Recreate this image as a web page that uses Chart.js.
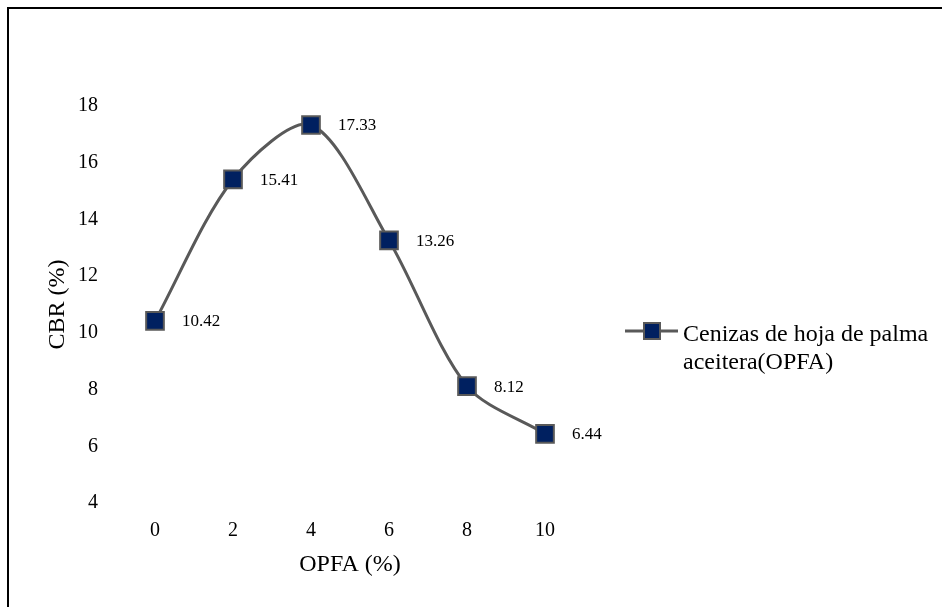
<!DOCTYPE html>
<html>
<head>
<meta charset="utf-8">
<script src="https://cdn.jsdelivr.net/npm/chart.js@4.4.1/dist/chart.umd.min.js"></script>
<style>
  html, body { margin: 0; padding: 0; background: #fff; }
  #wrap { position: relative; width: 942px; height: 607px; }
  #frame {
    position: absolute; left: 7px; top: 7px; right: 0; bottom: 0;
    border-left: 2px solid #000; border-top: 2px solid #000;
    pointer-events: none;
  }
  canvas { position: absolute; left: 0; top: 0; }
</style>
</head>
<body>
<div id="wrap">
  <canvas id="chart" width="942" height="607"></canvas>
  <div id="frame"></div>
</div>
<script>
/* Data */
const categories = ["0", "2", "4", "6", "8", "10"];
const cbrValues = [10.42, 15.41, 17.33, 13.26, 8.12, 6.44];
const seriesName = ["Cenizas de hoja de palma", "aceitera(OPFA)"];
const yMin = 4;
const yMax = 18;
const yStep = 2;

const serif = "'Liberation Serif', 'Times New Roman', serif";
const lineColor = "#595959";
const markerColor = "#002060";

/* Value labels next to each point */
const valueLabels = {
  id: "valueLabels",
  afterDatasetsDraw(chart) {
    const ctx = chart.ctx;
    const meta = chart.getDatasetMeta(0);
    ctx.save();
    ctx.font = "17px " + serif;
    ctx.fillStyle = "#000";
    ctx.textAlign = "left";
    ctx.textBaseline = "middle";
    meta.data.forEach((pt, i) => {
      ctx.fillText(cbrValues[i].toFixed(2), pt.x + 27, pt.y + 1);
    });
    ctx.restore();
  }
};

/* Legend on the right, two lines of text */
const sideLegend = {
  id: "sideLegend",
  afterDraw(chart) {
    const ctx = chart.ctx;
    const x0 = 625, x1 = 678, y = 331;
    ctx.save();
    ctx.strokeStyle = lineColor;
    ctx.lineWidth = 3;
    ctx.beginPath();
    ctx.moveTo(x0, y);
    ctx.lineTo(x1, y);
    ctx.stroke();
    ctx.fillStyle = markerColor;
    ctx.lineWidth = 2;
    ctx.fillRect(644, y - 8, 16, 16);
    ctx.strokeRect(644, y - 8, 16, 16);
    ctx.font = "24px " + serif;
    ctx.fillStyle = "#000";
    ctx.textAlign = "left";
    ctx.textBaseline = "alphabetic";
    ctx.fillText(seriesName[0], 683, 341);
    ctx.fillText(seriesName[1], 683, 369);
    ctx.restore();
  }
};

const chart = new Chart(document.getElementById("chart"), {
  type: "line",
  data: {
    labels: categories,
    datasets: [
      {
        label: seriesName.join(" "),
        data: cbrValues,
        borderColor: lineColor,
        borderWidth: 3,
        tension: 0.3,
        fill: false,
        pointStyle: "rect",
        pointRadius: 12.5,
        pointHoverRadius: 12.5,
        pointBackgroundColor: markerColor,
        pointBorderColor: lineColor,
        pointBorderWidth: 2
      }
    ]
  },
  options: {
    responsive: false,
    animation: false,
    layout: {
      padding: { left: 0, top: 106, right: 358, bottom: 0 }
    },
    plugins: {
      legend: { display: false },
      tooltip: { enabled: false }
    },
    scales: {
      x: {
        offset: true,
        grid: { display: false, drawTicks: false },
        border: { display: false },
        ticks: {
          color: "#000",
          padding: 16,
          font: { family: serif, size: 20 }
        },
        title: {
          display: true,
          text: "OPFA (%)",
          color: "#000",
          font: { family: serif, size: 24, lineHeight: 1.2 },
          padding: { top: 0, bottom: 28 }
        },
        afterFit(scale) {
          scale.height = 104;
        }
      },
      y: {
        min: yMin,
        max: yMax,
        grid: { display: false, drawTicks: false },
        border: { display: false },
        ticks: {
          stepSize: yStep,
          color: "#000",
          padding: 18,
          font: { family: serif, size: 20 }
        },
        title: {
          display: true,
          text: "CBR (%)",
          color: "#000",
          font: { family: serif, size: 24, lineHeight: 1.2 },
          padding: { top: 43, bottom: 0 }
        },
        afterFit(scale) {
          scale.width = 116;
        }
      }
    }
  },
  plugins: [valueLabels, sideLegend]
});
</script>
</body>
</html>
